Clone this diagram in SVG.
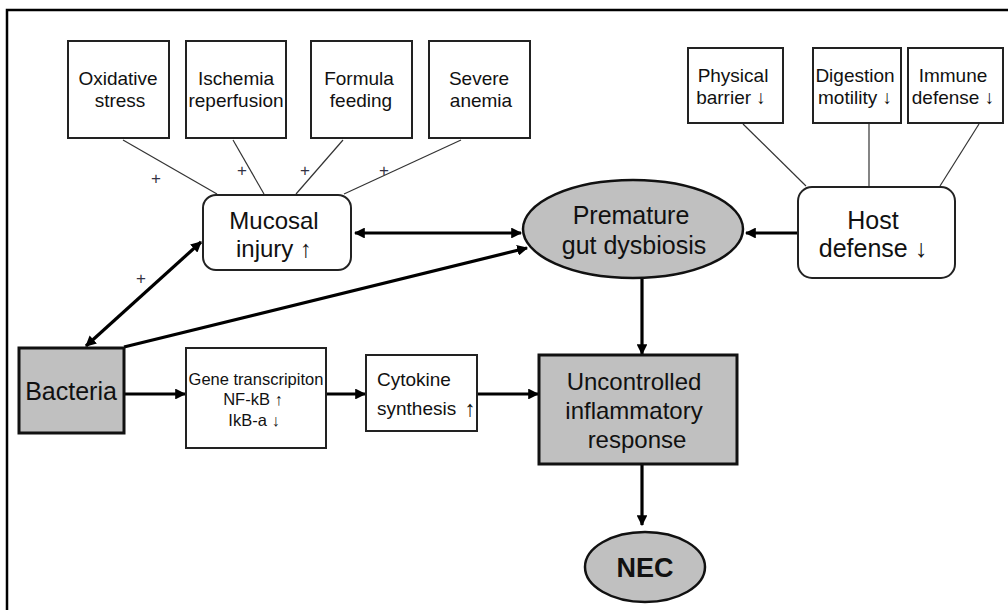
<svg xmlns="http://www.w3.org/2000/svg" width="1008" height="610" viewBox="0 0 1008 610">
<style>
text{font-family:"Liberation Sans",Arial,"DejaVu Sans",sans-serif;fill:#111;text-anchor:middle}
.box{fill:#fff;stroke:#222;stroke-width:2}
.gray{fill:#c0c0c0;stroke:#111;stroke-width:3}
.thin{stroke:#333;stroke-width:1.2;fill:none}
.thick{stroke:#000;stroke-width:3.2;fill:none}
.plus{font-size:17px;fill:#334}
.t19{font-size:19px}
.t25{font-size:25px}
.t24{font-size:24px}
.t15{font-size:16.5px}
</style>
<defs>
<marker id="ah" viewBox="0 0 10 10" refX="9" refY="5" markerWidth="3.4" markerHeight="3.4" orient="auto-start-reverse" markerUnits="strokeWidth">
<path d="M0,0 L10,5 L0,10 z" fill="#000"/>
</marker>
</defs>
<rect width="1008" height="610" fill="#fff"/>
<path d="M7,610 V10 H1008" fill="none" stroke="#000" stroke-width="2.5"/>

<g id="connectors">
<line class="thin" x1="123" y1="140" x2="217" y2="194"/>
<line class="thin" x1="233" y1="140" x2="264" y2="194"/>
<line class="thin" x1="343" y1="140" x2="296" y2="194"/>
<line class="thin" x1="461" y1="140" x2="344" y2="194"/>
<line class="thin" x1="743" y1="124" x2="806" y2="186"/>
<line class="thin" x1="869" y1="124" x2="869" y2="186"/>
<line class="thin" x1="979" y1="124" x2="940" y2="186"/>
<line class="thick" x1="355" y1="233" x2="521" y2="233" marker-start="url(#ah)" marker-end="url(#ah)"/>
<line class="thick" x1="86" y1="346" x2="201" y2="242" marker-start="url(#ah)" marker-end="url(#ah)"/>
<line class="thick" x1="124" y1="347" x2="527" y2="248" marker-end="url(#ah)"/>
<line class="thick" x1="798" y1="233" x2="746" y2="233" marker-end="url(#ah)"/>
<line class="thick" x1="642" y1="279" x2="642" y2="354" marker-end="url(#ah)"/>
<line class="thick" x1="124" y1="394" x2="185" y2="394" marker-end="url(#ah)"/>
<line class="thick" x1="327" y1="394" x2="365" y2="394" marker-end="url(#ah)"/>
<line class="thick" x1="477" y1="394" x2="538" y2="394" marker-end="url(#ah)"/>
<line class="thick" x1="642" y1="465" x2="642" y2="525" marker-end="url(#ah)"/>
<text class="plus" x="156" y="184">+</text>
<text class="plus" x="242" y="176">+</text>
<text class="plus" x="305" y="176">+</text>
<text class="plus" x="384" y="176">+</text>
<text class="plus" x="141" y="284">+</text>
</g>

<g id="oxidative">
<rect class="box" x="68" y="41" width="101" height="97"/>
<text class="t19" x="118" y="85">Oxidative</text>
<text class="t19" x="120" y="107">stress</text>
</g>
<g id="ischemia">
<rect class="box" x="186" y="41" width="100" height="97"/>
<text class="t19" x="236" y="85">Ischemia</text>
<text class="t19" x="236" y="107">reperfusion</text>
</g>
<g id="formula">
<rect class="box" x="311" y="41" width="101" height="97"/>
<text class="t19" x="359" y="85">Formula</text>
<text class="t19" x="361" y="107">feeding</text>
</g>
<g id="anemia">
<rect class="box" x="429" y="41" width="101" height="97"/>
<text class="t19" x="479" y="85">Severe</text>
<text class="t19" x="481" y="107">anemia</text>
</g>
<g id="physical">
<rect class="box" x="688" y="48" width="95" height="75"/>
<text class="t19" x="733" y="82">Physical</text>
<text class="t19" x="731" y="104">barrier ↓</text>
</g>
<g id="digestion">
<rect class="box" x="813" y="48" width="88" height="75"/>
<text class="t19" x="855" y="82">Digestion</text>
<text class="t19" x="855" y="104">motility ↓</text>
</g>
<g id="immune">
<rect class="box" x="908" y="48" width="95" height="75"/>
<text class="t19" x="953" y="82">Immune</text>
<text class="t19" x="953" y="104">defense ↓</text>
</g>
<g id="mucosal">
<rect class="box" x="203" y="195" width="148" height="75" rx="13"/>
<text class="t24" x="274" y="229">Mucosal</text>
<text class="t24" x="274" y="257">injury ↑</text>
</g>
<g id="dysbiosis">
<ellipse class="gray" cx="633" cy="229" rx="110" ry="49" style="stroke-width:2.5"/>
<text class="t25" x="631" y="224">Premature</text>
<text class="t25" x="634" y="254">gut dysbiosis</text>
</g>
<g id="host">
<rect class="box" x="798" y="187" width="157" height="91" rx="14"/>
<text class="t25" x="873" y="229">Host</text>
<text class="t25" x="873" y="257">defense ↓</text>
</g>
<g id="bacteria">
<rect class="gray" x="19" y="348" width="105" height="85"/>
<text class="t25" x="71" y="400">Bacteria</text>
</g>
<g id="gene">
<rect class="box" x="186" y="348" width="140" height="100"/>
<text class="t15" x="256" y="385">Gene transcripiton</text>
<text class="t15" x="253" y="405">NF-kB ↑</text>
<text class="t15" x="254" y="426">IkB-a ↓</text>
</g>
<g id="cytokine">
<rect class="box" x="366" y="355" width="111" height="76"/>
<text class="t19" x="377" y="386" style="text-anchor:start">Cytokine</text>
<text class="t19" x="377" y="415" style="text-anchor:start">synthesis</text>
<text x="470" y="416" style="font-size:22px">↑</text>
</g>
<g id="inflammatory">
<rect class="gray" x="539" y="355" width="198" height="109"/>
<text class="t24" x="634" y="390">Uncontrolled</text>
<text class="t24" x="634" y="419">inflammatory</text>
<text class="t24" x="637" y="448">response</text>
</g>
<g id="nec">
<ellipse class="gray" cx="645" cy="567" rx="60" ry="35" style="stroke-width:2.5"/>
<text x="645" y="577" style="font-size:27px;font-weight:bold">NEC</text>
</g>
</svg>
